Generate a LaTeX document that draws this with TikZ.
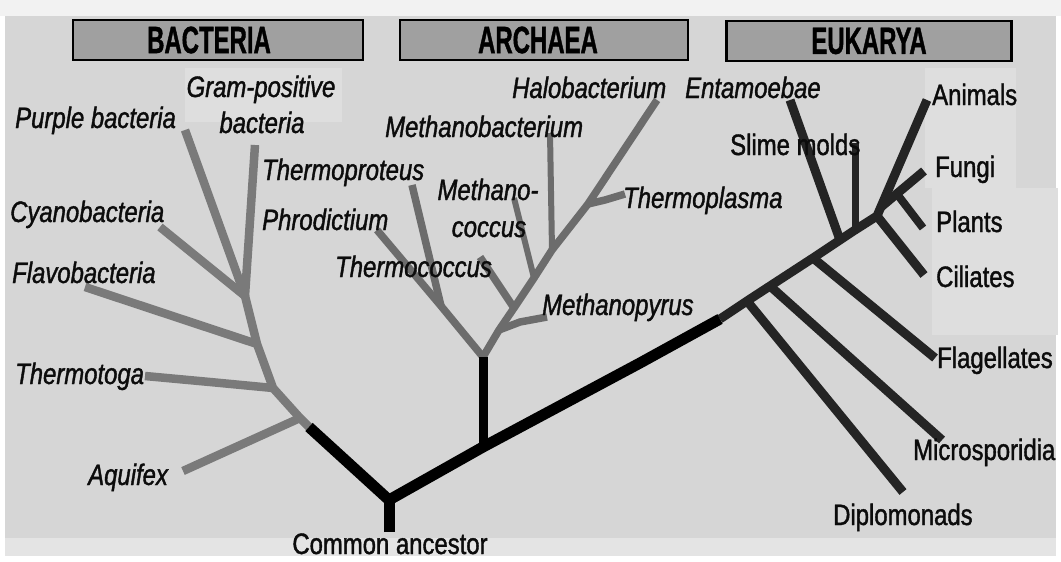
\documentclass[tikz,border=0pt]{standalone}
\usepackage{fontspec}
\newfontfamily\lf[FakeStretch=0.81,FakeBold=1.3]{Liberation Sans}
\newfontfamily\hf[FakeStretch=0.63,FakeBold=1]{Liberation Sans}
\definecolor{bgc}{RGB}{214,214,214}
\definecolor{topc}{RGB}{242,242,242}
\definecolor{botc}{RGB}{228,228,228}
\definecolor{patchc}{RGB}{222,222,222}
\definecolor{hdrc}{RGB}{160,160,160}
\definecolor{bacc}{RGB}{122,122,122}
\definecolor{arcc}{RGB}{108,108,108}
\definecolor{eukc}{RGB}{36,36,36}
\definecolor{txtc}{RGB}{12,12,12}
\tikzset{
  ul/.style={font=\lf\fontsize{29.5}{32}\selectfont, inner sep=0pt, text=txtc},
  il/.style={font=\lf\itshape\fontsize{29.5}{32}\selectfont, inner sep=0pt, text=txtc},
  hdrbox/.style={draw=black, line width=2.8pt, fill=hdrc, minimum height=40pt, inner sep=0pt},
  hdrtxt/.style={font=\hf\bfseries\fontsize{38}{40}\selectfont, inner sep=0pt, text=black},
  trunk/.style={draw=black, line width=11pt, line join=round},
  bac/.style={draw=bacc, line width=8.5pt, line join=round},
  arc/.style={draw=arcc, line width=7.5pt, line join=round},
  arcthin/.style={draw=arcc, line width=6pt, line join=round},
  euk/.style={draw=eukc, line width=9pt, line join=round},
}
\begin{document}
\begin{tikzpicture}[x=1pt,y=-1pt]
\useasboundingbox (0,0) rectangle (1061,562);
% background
\fill[white] (0,0) rectangle (1061,562);
\fill[topc] (0,0) rectangle (1061,16);
\fill[bgc] (5,16) rectangle (1056,538);
\fill[botc] (5,538) rectangle (1056,556);
\fill[patchc] (185,68) rectangle (342,122);
\fill[patchc] (925,68) rectangle (1016,188);
\fill[patchc] (932,188) rectangle (1058,335);

% headers
\node[hdrbox, minimum width=290pt] (hb) at (218,40) {};
\node[hdrtxt] (hbt) at (209,40) {BACTERIA};
\node[hdrbox, minimum width=288pt] (ha) at (544,40) {};
\node[hdrtxt] (hat) at (538,40) {ARCHAEA};
\node[hdrbox, minimum width=285pt] (he) at (869,41) {};
\node[hdrtxt] (het) at (869,41) {EUKARYA};

% coordinates: trunk
\coordinate (root) at (389,500);
\coordinate (rootstub) at (389,532);
\coordinate (b0) at (309,427);
\coordinate (a0) at (483,447);
\coordinate (a1) at (483,357);
\coordinate (e0) at (640,363);
\coordinate (e1) at (720,319);
% bacteria
\coordinate (bj) at (300,418);
\coordinate (b1) at (273,388);
\coordinate (b2) at (257,344);
\coordinate (b3) at (245,296);
\coordinate (aq) at (183,471);
\coordinate (ttm) at (210,382);
\coordinate (tt) at (145,376);
\coordinate (fl) at (85,287);
\coordinate (cy) at (160,227);
\coordinate (pu) at (185,130);
\coordinate (gp) at (255,145);
% archaea
\coordinate (aL1) at (441,306);
\coordinate (pd) at (377,230);
\coordinate (tp) at (412,185);
\coordinate (aR1) at (499,330);
\coordinate (aR2) at (514,308);
\coordinate (aR3) at (534,278);
\coordinate (aR4) at (552,250);
\coordinate (aR5) at (588,204);
\coordinate (hbe) at (657,100);
\coordinate (tc) at (480,257);
\coordinate (mc) at (514,198);
\coordinate (mb) at (550,133);
\coordinate (tplm) at (605,200);
\coordinate (tpl) at (625,194);
\coordinate (mpm) at (520,322);
\coordinate (mp) at (547,317);
% eukarya
\coordinate (dj) at (747,301);
\coordinate (mj) at (770,286);
\coordinate (fj) at (813,258);
\coordinate (enj) at (840,240);
\coordinate (sj) at (855,230);
\coordinate (cj) at (877,216);
\coordinate (fuj) at (881,207);
\coordinate (pj) at (897,194);
\coordinate (an) at (927,100);
\coordinate (dp) at (903,492);
\coordinate (ms) at (942,440);
\coordinate (fg) at (935,358);
\coordinate (en) at (790,100);
\coordinate (sm) at (855,143);
\coordinate (ci) at (924,275);
\coordinate (fu) at (924,171);
\coordinate (pl) at (923,228);

% bacteria branches
\draw[bac] (b0) -- (bj) -- (b1) -- (b2) -- (b3);
\draw[bac] (bj) -- (aq);
\draw[bac] (b1) -- (ttm) -- (tt);
\draw[bac] (b2) -- (fl);
\draw[bac] (b3) -- (cy);
\draw[bac] (b3) -- (pu);
\draw[bac] (b3) -- (gp);

% archaea branches
\draw[arc] (a1) -- (aL1) -- (pd);
\draw[arc] (aL1) -- (tp);
\draw[arc] (a1) -- (aR1) -- (aR2) -- (aR3) -- (aR4) -- (aR5) -- (hbe);
\draw[arc] (aR2) -- (tc);
\draw[arcthin] (aR3) -- (mc);
\draw[arcthin] (aR4) -- (mb);
\draw[arc] (aR5) -- (tplm) -- (tpl);
\draw[arc] (aR1) -- (mpm) -- (mp);

% eukarya branches
\draw[euk] (e1) -- (dj) -- (mj) -- (fj) -- (enj) -- (sj) -- (cj) -- (an);
\draw[euk] (dj) -- (dp);
\draw[euk] (mj) -- (ms);
\draw[euk] (fj) -- (fg);
\draw[euk] (enj) -- (en);
\draw[euk, line width=7pt] (sj) -- (sm);
\draw[euk] (cj) -- (ci);
\draw[euk] (fuj) -- (fu);
\draw[euk, line width=8pt] (pj) -- (pl);

% trunk
\draw[trunk] (rootstub) -- (root);
\draw[trunk] (b0) -- (root) -- (a0) -- (e0) -- (e1);
\draw[trunk, line width=9pt] (a0) -- (a1);

% labels
\node[il, anchor=base west] (lpu) at (15,128) {Purple bacteria};
\node[il, anchor=base] (lgp1) at (261,97) {Gram-positive};
\node[il, anchor=base] (lgp2) at (262,133) {bacteria};
\node[il, anchor=base west] (lcy) at (10,222) {Cyanobacteria};
\node[il, anchor=base west] (lfl) at (12,283) {Flavobacteria};
\node[il, anchor=base west] (ltt) at (15,384) {Thermotoga};
\node[il, anchor=base west] (laq) at (88,485) {Aquifex};
\node[il, anchor=base west] (ltp) at (262,180) {Thermoproteus};
\node[il, anchor=base west] (lpd) at (262,230) {Phrodictium};
\node[il, anchor=base west] (ltc) at (335,277) {Thermococcus};
\node[il, anchor=base] (lmc1) at (488,200) {Methano-};
\node[il, anchor=base] (lmc2) at (489,237) {coccus};
\node[il, anchor=base west] (lmb) at (385,137) {Methanobacterium};
\node[il, anchor=base west] (lhb) at (512,98) {Halobacterium};
\node[il, anchor=base west] (ltpl) at (623,208) {Thermoplasma};
\node[il, anchor=base west] (lmp) at (542,315) {Methanopyrus};
\node[il, anchor=base west] (len) at (685,98) {Entamoebae};
\node[ul, anchor=base west] (lsm) at (730,155) {Slime molds};
\node[ul, anchor=base west] (lan) at (932,105) {Animals};
\node[ul, anchor=base west] (lfu) at (935,177) {Fungi};
\node[ul, anchor=base west] (lpl) at (936,232) {Plants};
\node[ul, anchor=base west] (lci) at (936,287) {Ciliates};
\node[ul, anchor=base west] (lfg) at (937,368) {Flagellates};
\node[ul, anchor=base west] (lms) at (913,460) {Microsporidia};
\node[ul, anchor=base west] (ldp) at (833,525) {Diplomonads};
\node[ul, anchor=base] (lca) at (390,554) {Common ancestor};
\end{tikzpicture}
\end{document}
